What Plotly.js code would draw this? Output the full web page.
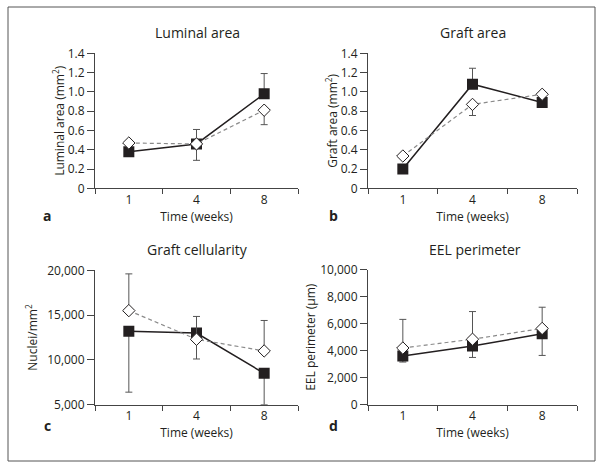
<!DOCTYPE html>
<html>
<head>
<meta charset="utf-8">
<script src="https://cdn.plot.ly/plotly-3.0.1.min.js"></script>
<style>
  body { margin: 0; background: #fff; }
  #plot { width: 600px; height: 464px; }
</style>
</head>
<body>
<div id="plot"></div>
<script>
// time points (weeks)
var weeks = ["1", "4", "8"];

// a: luminal area (mm2)
var lumFilled = [0.38, 0.46, 0.98];
var lumFilledUp = [0.02, 0.15, 0.21];
var lumOpen = [0.47, 0.46, 0.81];
var lumOpenDown = [0.02, 0.17, 0.15];

// b: graft area (mm2)
var graftFilled = [0.20, 1.08, 0.89];
var graftFilledUp = [0.02, 0.165, 0.02];
var graftOpen = [0.335, 0.87, 0.975];
var graftOpenDown = [0.02, 0.115, 0.02];

// c: graft cellularity (nuclei/mm2)
var cellFilled = [13200, 13000, 8500];
var cellFilledDown = [6800, 2900, 3500];
var cellOpen = [15500, 12300, 11000];
var cellOpenUp = [4100, 2550, 3400];

// d: EEL perimeter (um)
var eelFilled = [3600, 4350, 5250];
var eelFilledDown = [440, 850, 1600];
var eelOpen = [4200, 4850, 5650];
var eelOpenUp = [2120, 2050, 1570];

var areaTicks = [0, 0.2, 0.4, 0.6, 0.8, 1.0, 1.2, 1.4];
var areaTickText = ["0", "0.2", "0.4", "0.6", "0.8", "1.0", "1.2", "1.4"];
var cellTicks = [5000, 10000, 15000, 20000];
var cellTickText = ["5,000", "10,000", "15,000", "20,000"];
var eelTicks = [0, 2000, 4000, 6000, 8000, 10000];
var eelTickText = ["0", "2,000", "4,000", "6,000", "8,000", "10,000"];

var ink = "#231f20";
var W = 600, H = 464;
function px(x) { return x / W; }
function py(y) { return 1 - y / H; }

function filledTrace(y, up, down, n) {
    return {
        x: weeks, y: y, xaxis: "x" + n, yaxis: "y" + n,
        type: "scatter", mode: "lines+markers",
        line: {color: ink, width: 1.5},
        marker: {symbol: "square", size: 11, color: ink},
        error_y: {type: "data", symmetric: false, array: up, arrayminus: down,
                  color: "#555", thickness: 1, width: 3.5},
        showlegend: false
    };
}

function openTrace(y, up, down, n) {
    return {
        x: weeks, y: y, xaxis: "x" + n, yaxis: "y" + n,
        type: "scatter", mode: "lines+markers",
        line: {color: "#8a8a8a", width: 1.2, dash: "4px,3px"},
        marker: {symbol: "diamond", size: 9.5, color: "#fff", line: {color: ink, width: 1}},
        error_y: {type: "data", symmetric: false, array: up, arrayminus: down,
                  color: "#555", thickness: 1, width: 3.5},
        showlegend: false
    };
}

var zeros = [0, 0, 0];
var data = [
    filledTrace(lumFilled, lumFilledUp, zeros, ""),
    openTrace(lumOpen, zeros, lumOpenDown, ""),
    filledTrace(graftFilled, graftFilledUp, zeros, 2),
    openTrace(graftOpen, zeros, graftOpenDown, 2),
    filledTrace(cellFilled, zeros, cellFilledDown, 3),
    openTrace(cellOpen, cellOpenUp, zeros, 3),
    filledTrace(eelFilled, zeros, eelFilledDown, 4),
    openTrace(eelOpen, eelOpenUp, zeros, 4)
];

function xAxis(x0, x1, anchor) {
    return {
        domain: [px(x0), px(x1)], anchor: anchor,
        type: "category", categoryarray: weeks, range: [-0.5, 2.5],
        showline: true, linecolor: "#444", linewidth: 1,
        ticks: "outside", tickson: "boundaries", ticklen: 5, tickcolor: "#444",
        showgrid: false, zeroline: false,
        tickfont: {size: 12, color: ink},
        title: {text: "Time (weeks)", font: {size: 12, color: ink}, standoff: 2}
    };
}

function yAxis(top, bottom, anchor, range, vals, text, title, standoff) {
    return {
        domain: [py(bottom), py(top)], anchor: anchor, range: range,
        tickvals: vals, ticktext: text,
        showline: true, linecolor: "#444", linewidth: 1,
        ticks: "outside", ticklen: 7, tickcolor: "#444",
        showgrid: false, zeroline: false,
        tickfont: {size: 12, color: ink},
        title: {text: title, font: {size: 12, color: ink}, standoff: standoff}
    };
}

function label(text, x, y, size, bold) {
    return {
        text: bold ? "<b>" + text + "</b>" : text,
        x: px(x), y: py(y), xref: "paper", yref: "paper",
        xanchor: "center", yanchor: "middle", showarrow: false,
        font: {size: size, color: ink}
    };
}

var layout = {
    width: W, height: H,
    margin: {l: 0, r: 0, t: 0, b: 0},
    paper_bgcolor: "#fff", plot_bgcolor: "#fff",
    font: {family: "Open Sans, sans-serif", color: ink},
    xaxis: xAxis(95, 298, "y"),
    yaxis: yAxis(53.3, 188.3, "x", [0, 1.4], areaTicks, areaTickText, "Luminal area (mm<sup>2</sup>)", 0),
    xaxis2: xAxis(368, 577, "y2"),
    yaxis2: yAxis(53.3, 188.3, "x2", [0, 1.4], areaTicks, areaTickText, "Graft area (mm<sup>2</sup>)", 0),
    xaxis3: xAxis(95, 298, "y3"),
    yaxis3: yAxis(270.3, 404.7, "x3", [5000, 20000], cellTicks, cellTickText, "Nuclei/mm<sup>2</sup>", 6),
    xaxis4: xAxis(368, 577, "y4"),
    yaxis4: yAxis(269.7, 404.7, "x4", [0, 10000], eelTicks, eelTickText, "EEL perimeter (µm)", 1),
    annotations: [
        label("Luminal area", 197, 32, 14),
        label("Graft area", 473, 32, 14),
        label("Graft cellularity", 197, 249, 14),
        label("EEL perimeter", 475, 249, 14),
        label("a", 47, 216, 14, true),
        label("b", 333, 216, 14, true),
        label("c", 47, 425, 14, true),
        label("d", 333, 425, 14, true)
    ],
    shapes: [{
        type: "rect", xref: "paper", yref: "paper",
        x0: px(8), x1: px(595), y0: py(461), y1: py(7),
        line: {color: "#555", width: 1}
    }]
};

Plotly.newPlot("plot", data, layout, {displayModeBar: false, staticPlot: true});
</script>
</body>
</html>
